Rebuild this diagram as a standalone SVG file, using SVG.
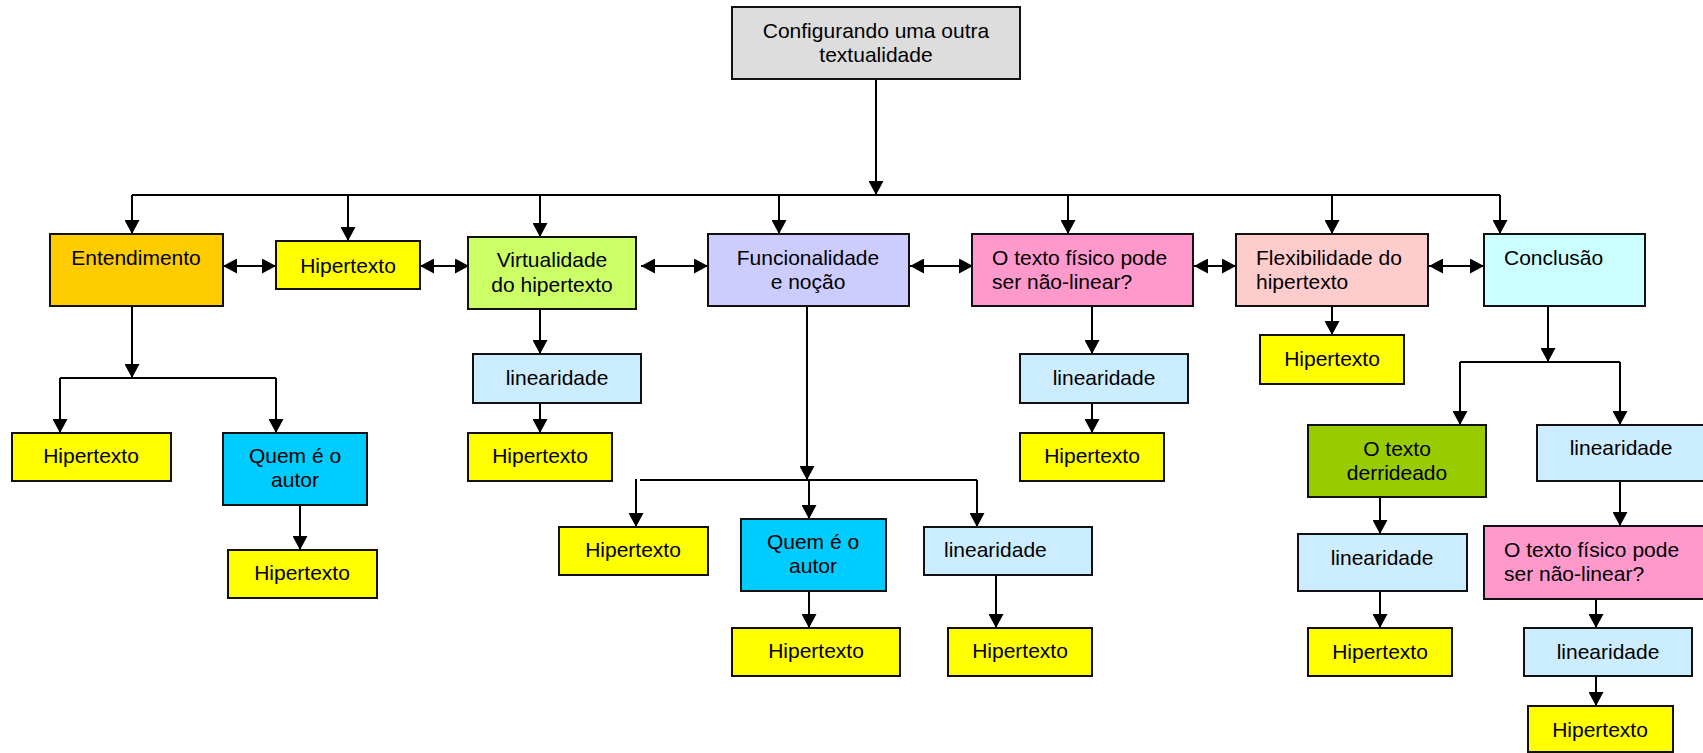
<svg xmlns="http://www.w3.org/2000/svg" width="1703" height="753" viewBox="0 0 1703 753">
<defs>
<marker id="ah" markerUnits="userSpaceOnUse" markerWidth="15" markerHeight="15" refX="14" refY="7.5" orient="auto-start-reverse">
<path d="M0,0 L14,7.5 L0,15 z" fill="#000"/>
</marker>
<style>
rect{stroke:#111;stroke-width:2}
text{font-family:"Liberation Sans",Arial,sans-serif;font-size:21px;fill:#000}
.c{text-anchor:middle}
.edges line{stroke:#000;stroke-width:2;fill:none}
.a{marker-end:url(#ah)}
.b{marker-start:url(#ah);marker-end:url(#ah)}
.gray{fill:#DDDDDD}.org{fill:#FFCC00}.yel{fill:#FFFF00}.lime{fill:#CCFF66}.lav{fill:#CCCCFF}
.pink{fill:#FF99CC}.rose{fill:#FFCCCC}.cyan{fill:#CCFFFF}.lblue{fill:#CCECFF}.sky{fill:#00CCFF}.grn{fill:#99CC00}
</style>
</defs>
<rect x="0" y="0" width="1703" height="753" fill="#fff" style="stroke:none"/>

<g class="edges">
<line class="a" x1="876" y1="79" x2="876" y2="195"/>
<line x1="132" y1="195" x2="1500" y2="195"/>
<line class="a" x1="132" y1="195" x2="132" y2="234"/>
<line class="a" x1="348" y1="195" x2="348" y2="241"/>
<line class="a" x1="540" y1="195" x2="540" y2="237"/>
<line class="a" x1="779" y1="195" x2="779" y2="234"/>
<line class="a" x1="1068" y1="195" x2="1068" y2="234"/>
<line class="a" x1="1332" y1="195" x2="1332" y2="234"/>
<line class="a" x1="1500" y1="195" x2="1500" y2="234"/>

<line class="b" x1="223" y1="266" x2="276" y2="266"/>
<line class="b" x1="420" y1="266" x2="469" y2="266"/>
<line class="b" x1="641" y1="266" x2="708" y2="266"/>
<line class="b" x1="910" y1="266" x2="973" y2="266"/>
<line class="b" x1="1194" y1="266" x2="1236" y2="266"/>
<line class="b" x1="1429" y1="266" x2="1484" y2="266"/>

<line class="a" x1="132" y1="307" x2="132" y2="378"/>
<line x1="60" y1="378" x2="276" y2="378"/>
<line class="a" x1="60" y1="378" x2="60" y2="433"/>
<line class="a" x1="276" y1="378" x2="276" y2="433"/>
<line class="a" x1="300" y1="505" x2="300" y2="550"/>

<line class="a" x1="540" y1="309" x2="540" y2="354"/>
<line class="a" x1="540" y1="403" x2="540" y2="433"/>

<line class="a" x1="807" y1="307" x2="807" y2="480"/>
<line x1="640" y1="480" x2="977" y2="480"/>
<line class="a" x1="636" y1="479" x2="636" y2="527"/>
<line class="a" x1="809" y1="480" x2="809" y2="519"/>
<line class="a" x1="977" y1="480" x2="977" y2="527"/>
<line class="a" x1="809" y1="591" x2="809" y2="628"/>
<line class="a" x1="996" y1="575" x2="996" y2="628"/>

<line class="a" x1="1092" y1="307" x2="1092" y2="354"/>
<line class="a" x1="1092" y1="403" x2="1092" y2="433"/>

<line class="a" x1="1332" y1="307" x2="1332" y2="335"/>

<line class="a" x1="1548" y1="307" x2="1548" y2="362"/>
<line x1="1460" y1="362" x2="1620" y2="362"/>
<line class="a" x1="1460" y1="362" x2="1460" y2="425"/>
<line class="a" x1="1620" y1="362" x2="1620" y2="425"/>
<line class="a" x1="1380" y1="497" x2="1380" y2="534"/>
<line class="a" x1="1380" y1="591" x2="1380" y2="628"/>
<line class="a" x1="1620" y1="481" x2="1620" y2="526"/>
<line class="a" x1="1596" y1="599" x2="1596" y2="628"/>
<line class="a" x1="1596" y1="676" x2="1596" y2="706"/>
</g>

<g id="root"><rect class="gray" x="732" y="7" width="288" height="72"/><text class="c" x="876" y="38">Configurando uma outra</text><text class="c" x="876" y="62">textualidade</text></g>

<g id="entendimento"><rect class="org" x="50" y="234" width="173" height="72"/><text class="c" x="136" y="265">Entendimento</text></g>
<g id="hipertexto1"><rect class="yel" x="276" y="241" width="144" height="48"/><text class="c" x="348" y="273">Hipertexto</text></g>
<g id="virtualidade"><rect class="lime" x="468" y="237" width="168" height="72"/><text class="c" x="552" y="267">Virtualidade</text><text class="c" x="552" y="292">do hipertexto</text></g>
<g id="funcionalidade"><rect class="lav" x="708" y="234" width="201" height="72"/><text class="c" x="808" y="265">Funcionalidade</text><text class="c" x="808" y="289">e noção</text></g>
<g id="textofisico"><rect class="pink" x="972" y="234" width="221" height="72"/><text x="992" y="265">O texto físico pode</text><text x="992" y="289">ser não-linear?</text></g>
<g id="flexibilidade"><rect class="rose" x="1236" y="234" width="192" height="72"/><text x="1256" y="265">Flexibilidade do</text><text x="1256" y="289">hipertexto</text></g>
<g id="conclusao"><rect class="cyan" x="1484" y="234" width="161" height="72"/><text x="1504" y="265">Conclusão</text></g>

<g id="ent-hipertexto"><rect class="yel" x="12" y="433" width="159" height="48"/><text class="c" x="91" y="463">Hipertexto</text></g>
<g id="ent-quem"><rect class="sky" x="223" y="433" width="144" height="72"/><text class="c" x="295" y="463">Quem é o</text><text class="c" x="295" y="487">autor</text></g>
<g id="ent-quem-hipertexto"><rect class="yel" x="228" y="550" width="149" height="48"/><text class="c" x="302" y="580">Hipertexto</text></g>

<g id="virt-linearidade"><rect class="lblue" x="473" y="354" width="168" height="49"/><text class="c" x="557" y="385">linearidade</text></g>
<g id="virt-hipertexto"><rect class="yel" x="468" y="433" width="144" height="48"/><text class="c" x="540" y="463">Hipertexto</text></g>

<g id="func-hipertexto"><rect class="yel" x="559" y="527" width="149" height="48"/><text class="c" x="633" y="557">Hipertexto</text></g>
<g id="func-quem"><rect class="sky" x="741" y="519" width="145" height="72"/><text class="c" x="813" y="549">Quem é o</text><text class="c" x="813" y="573">autor</text></g>
<g id="func-quem-hipertexto"><rect class="yel" x="732" y="628" width="168" height="48"/><text class="c" x="816" y="658">Hipertexto</text></g>
<g id="func-linearidade"><rect class="lblue" x="924" y="527" width="168" height="48"/><text x="944" y="557">linearidade</text></g>
<g id="func-lin-hipertexto"><rect class="yel" x="948" y="628" width="144" height="48"/><text class="c" x="1020" y="658">Hipertexto</text></g>

<g id="otf-linearidade"><rect class="lblue" x="1020" y="354" width="168" height="49"/><text class="c" x="1104" y="385">linearidade</text></g>
<g id="otf-hipertexto"><rect class="yel" x="1020" y="433" width="144" height="48"/><text class="c" x="1092" y="463">Hipertexto</text></g>

<g id="flex-hipertexto"><rect class="yel" x="1260" y="335" width="144" height="49"/><text class="c" x="1332" y="366">Hipertexto</text></g>

<g id="derrideado"><rect class="grn" x="1308" y="425" width="178" height="72"/><text class="c" x="1397" y="456">O texto</text><text class="c" x="1397" y="480">derrideado</text></g>
<g id="derr-linearidade"><rect class="lblue" x="1298" y="534" width="169" height="57"/><text class="c" x="1382" y="565">linearidade</text></g>
<g id="derr-hipertexto"><rect class="yel" x="1308" y="628" width="144" height="48"/><text class="c" x="1380" y="659">Hipertexto</text></g>

<g id="concl-linearidade"><rect class="lblue" x="1537" y="425" width="168" height="56"/><text class="c" x="1621" y="455">linearidade</text></g>
<g id="concl-textofisico"><rect class="pink" x="1484" y="526" width="221" height="73"/><text x="1504" y="557">O texto físico pode</text><text x="1504" y="581">ser não-linear?</text></g>
<g id="concl-linearidade2"><rect class="lblue" x="1524" y="628" width="168" height="48"/><text class="c" x="1608" y="659">linearidade</text></g>
<g id="concl-hipertexto"><rect class="yel" x="1528" y="706" width="145" height="46"/><text class="c" x="1600" y="737">Hipertexto</text></g>
</svg>
